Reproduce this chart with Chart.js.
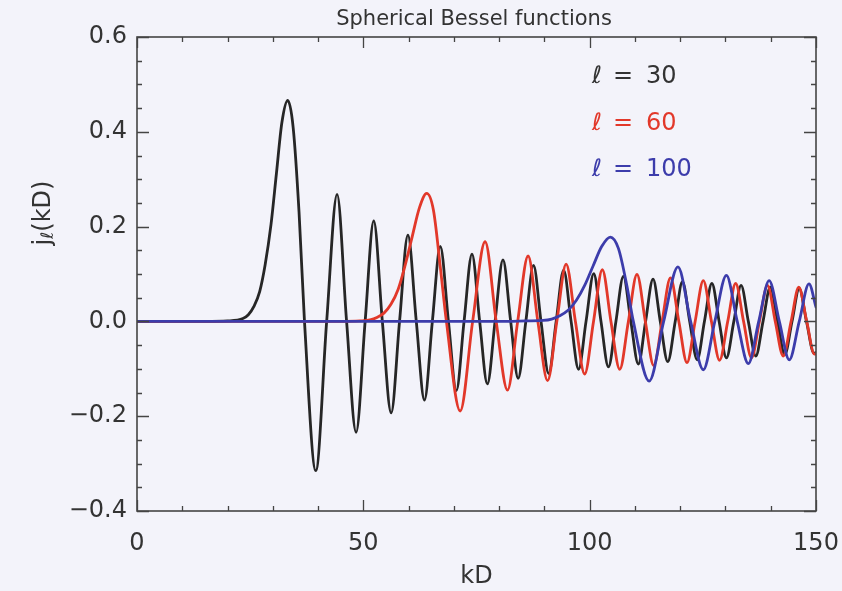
<!DOCTYPE html>
<html>
<head>
<meta charset="utf-8">
<script src="https://cdn.jsdelivr.net/npm/chart.js@4.4.0/dist/chart.umd.min.js"></script>
<style>
  html, body { margin: 0; padding: 0; background: #f3f3fa; }
  #wrap { width: 842px; height: 591px; }
</style>
</head>
<body>
<div id="wrap"><canvas id="bessel" width="842" height="591"></canvas></div>
<script>
// j_l(kD) curves: sample positions (kD) and values for l = 30, 60, 100
const kd30 = [0, 15, 20, 23.4, 24.6, 25.8, 27.1, 28.3, 29.6, 30.8, 32.0, 33.3, 34.5, 35.8, 37.0,
  39.5, 41.9, 44.2, 46.3, 48.4, 50.4, 52.3, 54.2, 56.15, 58.0, 59.85, 61.7, 63.5, 65.25, 67.0,
  68.8, 70.55, 72.25, 74.0, 75.7, 77.4, 79.1, 80.85, 82.55, 84.2, 85.9, 87.6, 89.25, 90.95, 92.6,
  94.25, 95.9, 97.55, 99.2, 100.9, 102.5, 104.15, 105.8, 107.45, 109.1, 110.75, 112.35, 114.0,
  115.6, 117.25, 118.9, 120.5, 122.1, 123.75, 125.35, 127.0, 128.6, 130.2, 131.85, 133.45,
  135.05, 136.7, 138.3, 139.9, 141.5, 143.1, 144.7, 146.3, 147.9, 149.55, 150];
const j30 = [0, 0, 0.001, 0.006, 0.014, 0.031, 0.063, 0.119, 0.204, 0.312, 0.419, 0.466, 0.409, 0.23, 0,
  -0.315, 0, 0.268, 0, -0.234, 0, 0.212, 0, -0.193, 0, 0.182, 0, -0.166, 0, 0.158,
  0, -0.146, 0, 0.142, 0, -0.132, 0, 0.130, 0, -0.120, 0, 0.118, 0, -0.110, 0,
  0.108, 0, -0.101, 0, 0.101, 0, -0.096, 0, 0.095, 0, -0.090, 0, 0.089,
  0, -0.085, 0, 0.084, 0, -0.081, 0, 0.080, 0, -0.077, 0, 0.076,
  0, -0.073, 0, 0.072, 0, -0.070, 0, 0.069, 0, -0.067, -0.066];

const kd60 = [0, 45, 49.3, 51.5, 53.0, 54.6, 56.1, 57.7, 59.2, 60.8, 62.4, 64.0, 65.5, 67.0, 68.35,
  71.4, 74.15, 76.9, 79.35, 81.85, 84.1, 86.4, 88.55, 90.7, 92.75, 94.8, 96.85, 98.9, 100.85,
  102.8, 104.7, 106.65, 108.55, 110.45, 112.3, 114.15, 116.0, 117.85, 119.7, 121.5, 123.3,
  125.1, 126.9, 128.7, 130.5, 132.25, 134.0, 135.75, 137.5, 139.3, 141.0, 142.75, 144.5,
  146.2, 147.95, 149.65, 150];
const j60 = [0, 0, 0.001, 0.003, 0.008, 0.018, 0.036, 0.068, 0.117, 0.179, 0.240, 0.270, 0.234, 0.115, 0,
  -0.189, 0, 0.168, 0, -0.145, 0, 0.138, 0, -0.125, 0, 0.121, 0, -0.111, 0,
  0.109, 0, -0.101, 0, 0.099, 0, -0.093, 0, 0.092, 0, -0.087, 0,
  0.086, 0, -0.082, 0, 0.080, 0, -0.077, 0, 0.076, 0, -0.073, 0,
  0.072, 0, -0.069, -0.068];

const kd100 = [0, 80, 86, 89.7, 91.6, 93.4, 95.3, 97.1, 98.95, 100.8, 102.65, 104.55, 106.35, 108.2, 109.65,
  113.15, 116.35, 119.5, 122.3, 125.1, 127.65, 130.2, 132.6, 135.05, 137.35, 139.65, 141.9,
  144.1, 146.3, 148.45, 150];
const j100 = [0, 0, 0.001, 0.002, 0.005, 0.012, 0.024, 0.045, 0.077, 0.118, 0.158, 0.178, 0.154, 0.076, 0,
  -0.126, 0, 0.115, 0, -0.102, 0, 0.097, 0, -0.089, 0, 0.086, 0,
  -0.081, 0, 0.079, 0.03];

const xTicks = [0, 50, 100, 150];
const yTicks = [-0.4, -0.2, 0.0, 0.2, 0.4, 0.6];
const legendLabels = ["30", "60", "100"];

const FONT = "'DejaVu Sans', sans-serif";
const TEXT = "#333333";
const COLORS = ["#262626", "#e2382a", "#3c3cab"];

function toPoints(xs, ys) {
  return xs.map((x, i) => ({ x, y: ys[i] }));
}

function formatTick(value) {
  const s = Math.abs(value).toFixed(1);
  return value < -1e-9 ? "\u2212" + s : s;
}

// page background
const background = {
  id: "background",
  beforeDraw(chart) {
    const { ctx, width, height } = chart;
    ctx.save();
    ctx.fillStyle = "#f3f3fa";
    ctx.fillRect(0, 0, width, height);
    ctx.restore();
  },
};

// box around the plot with inward ticks on all four sides
const frame = {
  id: "frame",
  afterDatasetsDraw(chart) {
    const { ctx, chartArea: a, scales } = chart;
    ctx.save();
    ctx.strokeStyle = "#444444";
    ctx.lineWidth = 1.6;
    ctx.strokeRect(a.left, a.top, a.right - a.left, a.bottom - a.top);

    ctx.lineWidth = 1.3;
    ctx.beginPath();
    for (let i = 0; i <= 15; i++) {
      const px = Math.round(scales.x.getPixelForValue(i * 10)) + 0.5;
      const len = i % 5 === 0 ? 11 : 5;
      ctx.moveTo(px, a.bottom); ctx.lineTo(px, a.bottom - len);
      ctx.moveTo(px, a.top); ctx.lineTo(px, a.top + len);
    }
    for (let i = 0; i <= 20; i++) {
      const py = Math.round(scales.y.getPixelForValue(-0.4 + i * 0.05)) + 0.5;
      const len = i % 4 === 0 ? 12 : 5;
      ctx.moveTo(a.left, py); ctx.lineTo(a.left + len, py);
      ctx.moveTo(a.right, py); ctx.lineTo(a.right - len, py);
    }
    ctx.stroke();
    ctx.restore();
  },
};

// title, axis names and the l = ... key
const labels = {
  id: "labels",
  afterDraw(chart) {
    const { ctx, chartArea: a } = chart;
    ctx.save();
    ctx.fillStyle = TEXT;
    ctx.textBaseline = "middle";

    ctx.font = `21px ${FONT}`;
    ctx.textAlign = "center";
    ctx.fillText("Spherical Bessel functions", 474, 20);

    ctx.font = `24px ${FONT}`;
    ctx.fillText("kD", (a.left + a.right) / 2, 577);

    // y axis name: j with subscript l
    ctx.translate(44, 213);
    ctx.rotate(-Math.PI / 2);
    ctx.textAlign = "left";
    const jw = ctx.measureText("j").width;
    ctx.font = `italic 17px ${FONT}`;
    const lw = ctx.measureText("\u2113").width;
    ctx.font = `24px ${FONT}`;
    const rest = "(kD)";
    const total = jw + lw + ctx.measureText(rest).width;
    let x0 = -total / 2;
    ctx.fillText("j", x0, 0);
    ctx.font = `italic 17px ${FONT}`;
    ctx.fillText("\u2113", x0 + jw, 5);
    ctx.font = `24px ${FONT}`;
    ctx.fillText(rest, x0 + jw + lw, 0);
    ctx.setTransform(1, 0, 0, 1, 0, 0);

    // key
    ctx.textAlign = "left";
    legendLabels.forEach((text, i) => {
      const y = 77 + i * 46.5;
      ctx.fillStyle = COLORS[i] === "#262626" ? TEXT : COLORS[i];
      ctx.font = `italic 24px ${FONT}`;
      ctx.fillText("\u2113", 592, y);
      ctx.font = `24px ${FONT}`;
      ctx.fillText("=", 613, y);
      ctx.fillText(text, 646, y);
    });
    ctx.restore();
  },
};

const ctx = document.getElementById("bessel");

new Chart(ctx, {
  type: "line",
  data: {
    datasets: [
      { label: "l = 30", data: toPoints(kd30, j30), borderColor: COLORS[0], order: 3 },
      { label: "l = 60", data: toPoints(kd60, j60), borderColor: COLORS[1], order: 2 },
      { label: "l = 100", data: toPoints(kd100, j100), borderColor: COLORS[2], order: 1 },
    ],
  },
  options: {
    responsive: false,
    animation: false,
    devicePixelRatio: 1,
    layout: { padding: { left: 0, right: 26, top: 37, bottom: 0 } },
    elements: {
      line: { borderWidth: 2.8, cubicInterpolationMode: "monotone", borderCapStyle: "round", borderJoinStyle: "round" },
      point: { radius: 0 },
    },
    scales: {
      x: {
        type: "linear",
        min: 0,
        max: 150,
        afterBuildTicks: (scale) => { scale.ticks = xTicks.map((value) => ({ value })); },
        afterFit: (scale) => {
          scale.height = 80;
          scale.paddingLeft = 0;
          scale.paddingRight = 0;
        },
        grid: { display: false, drawTicks: false },
        border: { display: false },
        ticks: {
          color: TEXT,
          padding: 18,
          font: { family: FONT, size: 24 },
          maxRotation: 0,
          callback: (value) => String(value),
        },
      },
      y: {
        type: "linear",
        min: -0.4,
        max: 0.6,
        afterBuildTicks: (scale) => { scale.ticks = yTicks.map((value) => ({ value })); },
        afterFit: (scale) => {
          scale.width = 137;
          scale.paddingTop = 0;
          scale.paddingBottom = 0;
        },
        grid: { display: false, drawTicks: false },
        border: { display: false },
        ticks: {
          color: TEXT,
          padding: 10,
          font: { family: FONT, size: 24 },
          callback: (value) => formatTick(value),
        },
      },
    },
    plugins: {
      legend: { display: false },
      tooltip: { enabled: false },
    },
  },
  plugins: [background, frame, labels],
});
</script>
</body>
</html>
